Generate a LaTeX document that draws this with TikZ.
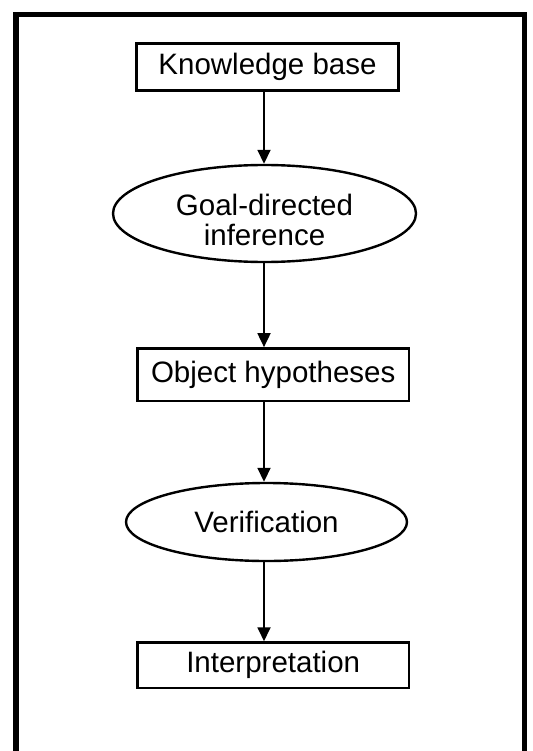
\documentclass[tikz,border=0pt]{standalone}
\usepackage{fontspec}
\setmainfont{Liberation Sans}
\usetikzlibrary{shapes.geometric,arrows.meta}
\tikzset{
  stage/.style={draw,line width=2.6pt,inner sep=0pt},
  oval/.style={ellipse,draw,line width=2.4pt,inner sep=0pt},
  flow/.style={-{Triangle[length=14pt,width=13pt]},line width=1.8pt},
}
\begin{document}
\begin{tikzpicture}[x=1pt,y=-1pt,every node/.style={font=\fontsize{29.5}{30}\selectfont}]
  \useasboundingbox (0,0) rectangle (532,751);
  % outer frame, open at the bottom
  \draw[line width=5.5pt] (16.2,751) -- (16.2,14.7) -- (524.5,14.7) -- (524.5,751);
  \coordinate (axis) at (264,0);
  \node[stage,minimum width=262pt,minimum height=47pt] (kb) at (267.5,67) {Knowledge base};
  \node[oval,minimum width=303pt,minimum height=97pt,
    label={[align=center,yshift=-6.5pt]center:{Goal-directed\\inference}}] (goal) at (264.5,213.5) {};
  \node[stage,minimum width=271.5pt,minimum height=52.5pt] (hyp) at (273.2,374.7) {Object hypotheses};
  \node[oval,minimum width=281pt,minimum height=78pt] (verif) at (266.5,522) {Verification};
  \node[stage,minimum width=271.5pt,minimum height=45.5pt] (interp) at (273.2,665.3) {Interpretation};
  \draw[flow] (kb.south -| axis) -- (goal.north -| axis);
  \draw[flow] (goal.south -| axis) -- (hyp.north -| axis);
  \draw[flow] (hyp.south -| axis) -- (verif.north -| axis);
  \draw[flow] (verif.south -| axis) -- (interp.north -| axis);
\end{tikzpicture}
\end{document}
